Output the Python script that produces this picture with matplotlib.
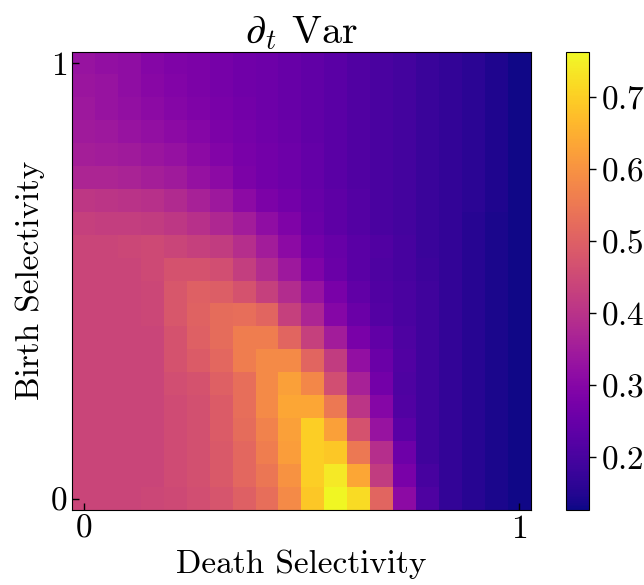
import numpy as np
import matplotlib
matplotlib.use("Agg")
import matplotlib.pyplot as plt

plt.rcParams["font.family"] = "serif"
plt.rcParams["font.serif"] = ["cmr10"]
plt.rcParams["mathtext.fontset"] = "cm"
plt.rcParams["axes.formatter.use_mathtext"] = True
plt.rcParams["font.size"] = 24

# d/dt Var on a 20x20 grid, rows = birth selectivity (bottom to top),
# columns = death selectivity (left to right)
row00 = [0.44, 0.44, 0.44, 0.445, 0.45, 0.46, 0.475, 0.50, 0.53, 0.585, 0.69, 0.76, 0.72, 0.51, 0.31, 0.21, 0.17, 0.155, 0.14, 0.13]
row01 = [0.44, 0.44, 0.44, 0.44, 0.455, 0.465, 0.485, 0.515, 0.545, 0.60, 0.70, 0.74, 0.635, 0.42, 0.28, 0.20, 0.17, 0.155, 0.14, 0.13]
row02 = [0.44, 0.44, 0.44, 0.44, 0.455, 0.465, 0.485, 0.515, 0.56, 0.62, 0.70, 0.69, 0.55, 0.39, 0.26, 0.19, 0.17, 0.155, 0.14, 0.13]
row03 = [0.44, 0.44, 0.44, 0.44, 0.455, 0.465, 0.49, 0.525, 0.57, 0.625, 0.70, 0.625, 0.47, 0.33, 0.23, 0.19, 0.17, 0.155, 0.14, 0.13]
row04 = [0.44, 0.44, 0.44, 0.44, 0.455, 0.465, 0.49, 0.53, 0.585, 0.635, 0.635, 0.55, 0.405, 0.30, 0.215, 0.19, 0.17, 0.155, 0.14, 0.13]
row05 = [0.44, 0.44, 0.44, 0.44, 0.46, 0.47, 0.50, 0.53, 0.585, 0.625, 0.58, 0.46, 0.36, 0.27, 0.21, 0.19, 0.17, 0.155, 0.14, 0.13]
row06 = [0.44, 0.44, 0.44, 0.44, 0.47, 0.49, 0.515, 0.56, 0.585, 0.585, 0.51, 0.42, 0.32, 0.255, 0.215, 0.19, 0.17, 0.155, 0.14, 0.13]
row07 = [0.44, 0.44, 0.44, 0.44, 0.47, 0.50, 0.525, 0.56, 0.56, 0.51, 0.43, 0.35, 0.28, 0.24, 0.21, 0.19, 0.17, 0.155, 0.14, 0.13]
row08 = [0.44, 0.44, 0.44, 0.445, 0.48, 0.505, 0.525, 0.53, 0.51, 0.43, 0.37, 0.30, 0.255, 0.22, 0.205, 0.19, 0.17, 0.155, 0.14, 0.13]
row09 = [0.44, 0.44, 0.44, 0.445, 0.48, 0.50, 0.495, 0.47, 0.43, 0.385, 0.33, 0.28, 0.24, 0.215, 0.205, 0.19, 0.17, 0.155, 0.14, 0.13]
row10 = [0.44, 0.44, 0.44, 0.45, 0.47, 0.47, 0.46, 0.425, 0.385, 0.34, 0.29, 0.255, 0.23, 0.21, 0.20, 0.185, 0.17, 0.155, 0.14, 0.13]
row11 = [0.44, 0.44, 0.445, 0.45, 0.44, 0.43, 0.42, 0.39, 0.35, 0.31, 0.27, 0.25, 0.23, 0.215, 0.20, 0.18, 0.17, 0.155, 0.14, 0.13]
row12 = [0.43, 0.425, 0.425, 0.42, 0.41, 0.395, 0.375, 0.35, 0.315, 0.29, 0.255, 0.235, 0.22, 0.205, 0.195, 0.18, 0.17, 0.155, 0.14, 0.13]
row13 = [0.41, 0.405, 0.40, 0.395, 0.38, 0.36, 0.34, 0.31, 0.285, 0.27, 0.25, 0.235, 0.22, 0.205, 0.195, 0.18, 0.17, 0.16, 0.145, 0.13]
row14 = [0.37, 0.37, 0.365, 0.355, 0.345, 0.325, 0.31, 0.285, 0.27, 0.26, 0.245, 0.23, 0.215, 0.205, 0.195, 0.18, 0.17, 0.16, 0.145, 0.13]
row15 = [0.355, 0.35, 0.345, 0.335, 0.325, 0.31, 0.295, 0.28, 0.27, 0.26, 0.245, 0.23, 0.215, 0.205, 0.195, 0.18, 0.17, 0.16, 0.145, 0.13]
row16 = [0.345, 0.34, 0.33, 0.32, 0.31, 0.30, 0.285, 0.275, 0.265, 0.255, 0.24, 0.23, 0.215, 0.205, 0.195, 0.18, 0.17, 0.16, 0.145, 0.13]
row17 = [0.34, 0.33, 0.32, 0.31, 0.30, 0.29, 0.28, 0.27, 0.26, 0.25, 0.24, 0.23, 0.215, 0.205, 0.195, 0.18, 0.17, 0.16, 0.145, 0.13]
row18 = [0.335, 0.33, 0.315, 0.305, 0.295, 0.285, 0.275, 0.265, 0.26, 0.25, 0.24, 0.23, 0.215, 0.205, 0.195, 0.18, 0.17, 0.16, 0.145, 0.13]
row19 = [0.33, 0.32, 0.315, 0.30, 0.29, 0.285, 0.275, 0.265, 0.26, 0.25, 0.24, 0.23, 0.215, 0.205, 0.195, 0.18, 0.17, 0.16, 0.145, 0.13]

tick_pos = [0, 1]
tick_labels = ["0", "1"]

grid = np.array([row00, row01, row02, row03, row04, row05, row06, row07, row08, row09,
                 row10, row11, row12, row13, row14, row15, row16, row17, row18, row19])
n = grid.shape[0]
half = 0.5 / (n - 1)

fig = plt.figure(figsize=(6.44, 5.85), dpi=100)
ax = fig.add_axes([0.1123, 0.1282, 0.7118, 0.7834])
cax = fig.add_axes([0.879, 0.1282, 0.036, 0.7834])

im = ax.imshow(grid, cmap="plasma", origin="lower", interpolation="nearest",
               extent=[-half, 1 + half, -half, 1 + half], aspect="auto",
               vmin=0.126, vmax=0.7625)

ax.set_xticks(tick_pos)
ax.set_xticklabels(tick_labels)
ax.set_yticks(tick_pos)
ax.set_yticklabels(tick_labels)
ax.tick_params(direction="in", length=5, width=1)
ax.set_xlabel("Death Selectivity")
ax.set_ylabel("Birth Selectivity")
ax.set_title(r"$\partial_t$ Var")

cb = fig.colorbar(im, cax=cax)
cb.set_ticks([0.2, 0.3, 0.4, 0.5, 0.6, 0.7])
cb.ax.tick_params(length=5, width=1)

fig.savefig("out.png", dpi=100)
